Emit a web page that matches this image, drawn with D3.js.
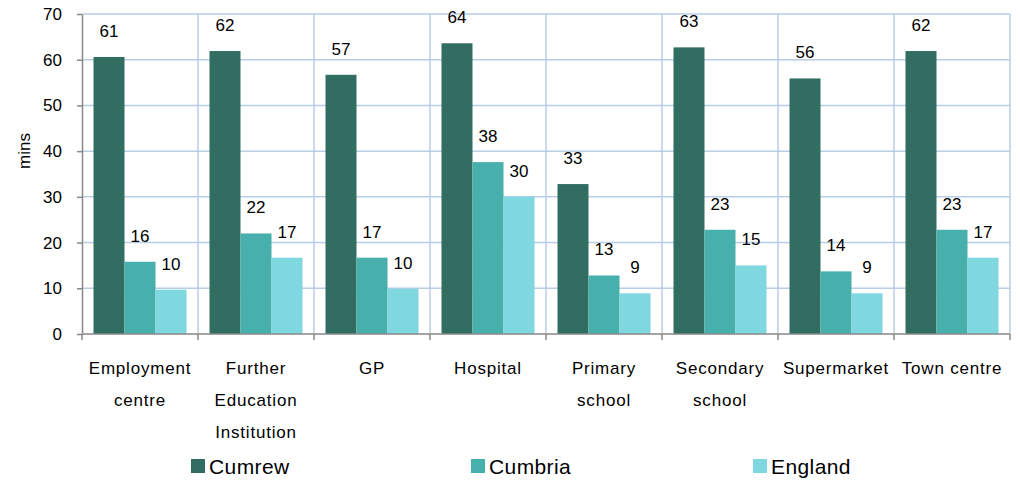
<!DOCTYPE html>
<html lang="en">
<head>
<meta charset="utf-8">
<script src="https://d3js.org/d3.v7.min.js"></script>
<style>
 body { margin: 0; background: #fff; }
 svg text { font-family: "Liberation Sans", Arial, sans-serif; fill: #000; }
 .grid line { stroke: #b9cde5; stroke-width: 1.5; }
 .axis path, .axis line { stroke: #888; stroke-width: 1.5; }
 .axis text { font-size: 17px; }
</style>
</head>
<body>
<svg id="chart" width="1020" height="480"></svg>
<script>
// data
var categories = ["Employment centre", "Further Education Institution", "GP", "Hospital",
                  "Primary school", "Secondary school", "Supermarket", "Town centre"];
var catLines = [["Employment", "centre"], ["Further", "Education", "Institution"], ["GP"], ["Hospital"],
                ["Primary", "school"], ["Secondary", "school"], ["Supermarket"], ["Town centre"]];
var seriesNames = ["Cumrew", "Cumbria", "England"];
var cumrew  = [60.6, 61.9, 56.7, 63.6, 32.8, 62.7, 55.9, 61.9];
var cumbria = [15.8, 22.0, 16.7, 37.6, 12.8, 22.8, 13.7, 22.8];
var england = [9.7, 16.7, 9.9, 30.0, 8.9, 15.0, 8.9, 16.7];
var yTicks = [0, 10, 20, 30, 40, 50, 60, 70];
var colors = ["#316e61", "#48b0ac", "#7fd8df"];

var seriesValues = [cumrew, cumbria, england];
var margin = {top: 14, left: 82, right: 10, bottom: 146};
var svg = d3.select("#chart");
var width = 1020 - margin.left - margin.right,
    height = 480 - margin.top - margin.bottom;
var g = svg.append("g").attr("transform", "translate(" + margin.left + "," + margin.top + ")");

var x = d3.scaleBand().domain(categories).range([0, width]).paddingInner(0).paddingOuter(0);
var x1 = d3.scaleBand().domain(seriesNames).range([11.5, x.bandwidth() - 11.5]).padding(0);
var y = d3.scaleLinear().domain([0, 70]).range([height, 0]);

// horizontal gridlines
g.append("g").attr("class", "grid")
  .selectAll("line").data(yTicks.slice(1)).enter().append("line")
  .attr("x1", 0).attr("x2", width)
  .attr("y1", function(d) { return y(d); }).attr("y2", function(d) { return y(d); });

// vertical gridlines at category boundaries
g.append("g").attr("class", "grid")
  .selectAll("line").data(categories).enter().append("line")
  .attr("x1", function(d) { return x(d) + x.bandwidth(); })
  .attr("x2", function(d) { return x(d) + x.bandwidth(); })
  .attr("y1", 0).attr("y2", height);

// bars
var groups = g.selectAll(".cat").data(categories).enter().append("g")
  .attr("transform", function(d) { return "translate(" + x(d) + ",0)"; });

groups.selectAll("rect")
  .data(function(d, i) { return seriesNames.map(function(s, j) { return {s: s, j: j, v: seriesValues[j][i]}; }); })
  .enter().append("rect")
  .attr("x", function(d) { return x1(d.s); })
  .attr("width", x1.bandwidth())
  .attr("y", function(d) { return y(d.v); })
  .attr("height", function(d) { return height - y(d.v); })
  .attr("fill", function(d) { return colors[d.j]; });

groups.selectAll(".lbl")
  .data(function(d, i) { return seriesNames.map(function(s, j) { return {s: s, v: seriesValues[j][i]}; }); })
  .enter().append("text")
  .attr("class", "lbl")
  .attr("x", function(d) { return x1(d.s) + x1.bandwidth() / 2; })
  .attr("y", function(d) { return y(d.v) - 26; })
  .attr("dy", "0.35em")
  .attr("text-anchor", "middle")
  .style("font-size", "17px")
  .text(function(d) { return Math.round(d.v); });

// y axis
g.append("g").attr("class", "axis")
  .call(d3.axisLeft(y).tickValues(yTicks).tickSize(5).tickSizeOuter(0).tickPadding(15))
  .selectAll("text").style("font-size", "17px");

// x axis
var xa = g.append("g").attr("class", "axis").attr("transform", "translate(0," + height + ")");
xa.append("line").attr("x1", 0).attr("x2", width).attr("y1", 0).attr("y2", 0);
xa.selectAll(".tk").data([0].concat(categories.map(function(d) { return x(d) + x.bandwidth(); })))
  .enter().append("line").attr("class", "tk")
  .attr("x1", function(d) { return d; }).attr("x2", function(d) { return d; })
  .attr("y1", 0).attr("y2", 6);

var catText = xa.selectAll(".cl").data(categories).enter().append("text")
  .attr("class", "cl")
  .attr("text-anchor", "middle")
  .attr("transform", function(d) { return "translate(" + (x(d) + x.bandwidth() / 2) + ",0)"; })
  .style("font-size", "17px")
  .style("letter-spacing", "0.8px");
catText.selectAll("tspan")
  .data(function(d, i) { return catLines[i]; })
  .enter().append("tspan")
  .attr("x", 0)
  .attr("y", function(d, i) { return 40 + i * 32; })
  .text(function(d) { return d; });

// y axis title
svg.append("text")
  .attr("transform", "translate(30,151) rotate(-90)")
  .attr("text-anchor", "middle")
  .style("font-size", "17px")
  .text("mins");

// legend
var legX = [191, 471, 753];
var leg = svg.selectAll(".leg").data(seriesNames).enter().append("g")
  .attr("transform", function(d, i) { return "translate(" + legX[i] + ",459)"; });
leg.append("rect").attr("width", 14).attr("height", 14)
  .attr("fill", function(d, i) { return colors[i]; });
leg.append("text").attr("x", 18).attr("y", 7).attr("dy", "0.36em")
  .style("font-size", "21px")
  .style("letter-spacing", "0.4px")
  .text(function(d) { return d; });
</script>
</body>
</html>
